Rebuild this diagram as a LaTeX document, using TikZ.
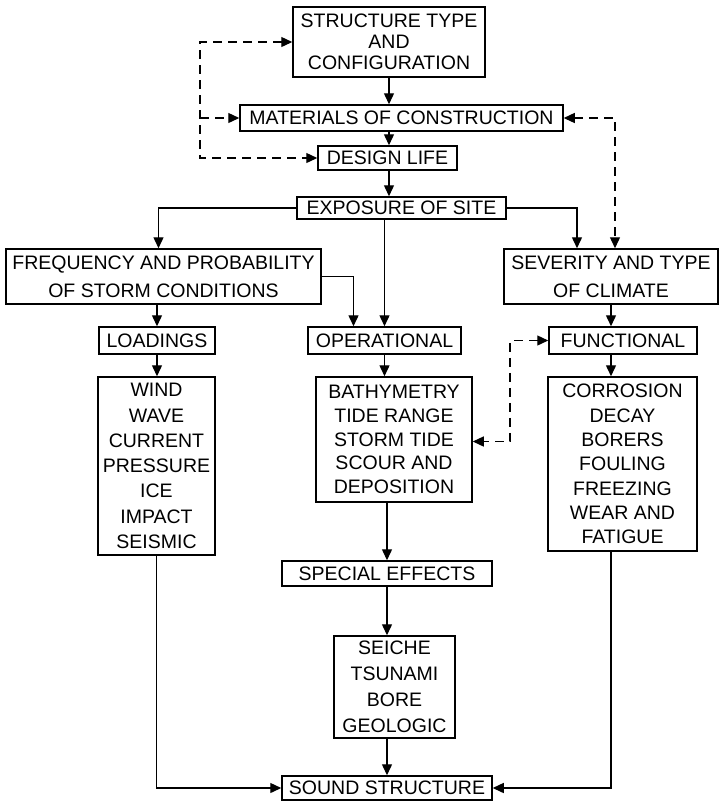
\documentclass[tikz,border=0pt]{standalone}
\usepackage{fontspec}
\setmainfont{Liberation Sans}
\usetikzlibrary{arrows.meta}

\begin{document}
\begin{tikzpicture}[x=1pt, y=-1pt,
    >={Triangle[length=11pt, width=10pt]},
    box/.style={draw, line width=1.5pt, inner sep=0pt, align=center,
      font=\fontsize{19.5}{24}\selectfont},
    arr/.style={->, line width=1.4pt},
    dasharr/.style={line width=1.3pt, dash pattern=on 9pt off 6pt}]
  \useasboundingbox (0, 0) rectangle (719, 801);

  \node[box, minimum width=192pt, minimum height=70pt,
    font=\fontsize{19.5}{21}\selectfont] (struct) at (389, 42)
    {STRUCTURE TYPE\\AND\\CONFIGURATION};
  \node[box, minimum width=323pt, minimum height=26pt] (mat) at (401.5, 118)
    {MATERIALS OF CONSTRUCTION};
  \node[box, minimum width=139pt, minimum height=24pt] (life) at (387.5, 158)
    {DESIGN LIFE};
  \node[box, minimum width=209pt, minimum height=22pt] (expo) at (401.5, 208)
    {EXPOSURE OF SITE};

  \node[box, minimum width=315pt, minimum height=55pt,
    font=\fontsize{19.5}{28}\selectfont] (freq) at (163.5, 276.5)
    {FREQUENCY AND PROBABILITY\\OF STORM CONDITIONS};
  \node[box, minimum width=214pt, minimum height=55pt,
    font=\fontsize{19.5}{28}\selectfont] (sev) at (611, 276.5)
    {SEVERITY AND TYPE\\OF CLIMATE};

  \node[box, minimum width=116pt, minimum height=27pt] (load) at (157, 340.5)
    {LOADINGS};
  \node[box, minimum width=153pt, minimum height=27pt] (oper) at (384.5, 340.5)
    {OPERATIONAL};
  \node[box, minimum width=148pt, minimum height=27pt] (func) at (623, 340.5)
    {FUNCTIONAL};

  \node[box, minimum width=117pt, minimum height=178pt,
    font=\fontsize{19.5}{25.3}\selectfont] (wind) at (156.5, 466)
    {WIND\\WAVE\\CURRENT\\PRESSURE\\ICE\\IMPACT\\SEISMIC};
  \node[box, minimum width=156pt, minimum height=125pt,
    font=\fontsize{19.5}{23.8}\selectfont] (bathy) at (394, 439.5)
    {BATHYMETRY\\TIDE RANGE\\STORM TIDE\\SCOUR AND\\DEPOSITION};
  \node[box, minimum width=149pt, minimum height=174pt,
    font=\fontsize{19.5}{24.3}\selectfont] (corr) at (622.5, 464)
    {CORROSION\\DECAY\\BORERS\\FOULING\\FREEZING\\WEAR AND\\FATIGUE};

  \node[box, minimum width=210pt, minimum height=25pt] (spec) at (387, 573.5)
    {SPECIAL EFFECTS};
  \node[box, minimum width=121pt, minimum height=102pt,
    font=\fontsize{19.5}{26}\selectfont] (seiche) at (394.5, 687)
    {SEICHE\\TSUNAMI\\BORE\\GEOLOGIC};
  \node[box, minimum width=210pt, minimum height=24pt] (sound) at (387, 788)
    {SOUND STRUCTURE};

  \draw[arr] (struct.south) -- (struct.south |- mat.north);
  \draw[arr] (struct.south |- mat.south) -- (struct.south |- life.north);
  \draw[arr] (struct.south |- life.south) -- (struct.south |- expo.north);
  \draw[arr] (expo.west) -| ([xshift=-5pt]freq.north);
  \draw[arr] (expo.south -| oper.north) -- (oper.north);
  \draw[arr] (expo.east) -| ([xshift=-34pt]sev.north);
  \draw[arr] (freq.east) -| ([xshift=-31pt]oper.north);
  \draw[arr] (freq.south -| load.north) -- (load.north);
  \draw[arr] (sev.south) -- (sev.south |- func.north);
  \draw[arr] (load.south) -- (load.south |- wind.north);
  \draw[arr] (oper.south) -- (oper.south |- bathy.north);
  \draw[arr] (func.south -| sev.south) -- (sev.south |- corr.north);
  \draw[arr] (bathy.south -| spec.north) -- (spec.north);
  \draw[arr] (spec.south) -- (spec.south |- seiche.north);
  \draw[arr] (seiche.south -| sound.north) -- (sound.north);
  \draw[arr] (wind.south) |- (sound.west);
  \draw[arr] (corr.south -| sev.south) |- (sound.east);

  \coordinate (dleft) at (200, 100);
  \coordinate (dmid) at (510, 400);
  \draw[dasharr, <->] (struct.west) -| (dleft) |- (life.west);
  \draw[dasharr, ->] (dleft |- mat.west) -- (mat.west);
  \draw[dasharr, <->] (mat.east) -| ([xshift=4pt]sev.north);
  \draw[dasharr, <->] (func.west) -| (dmid) |- ([yshift=-2pt]bathy.east);
\end{tikzpicture}
\end{document}
